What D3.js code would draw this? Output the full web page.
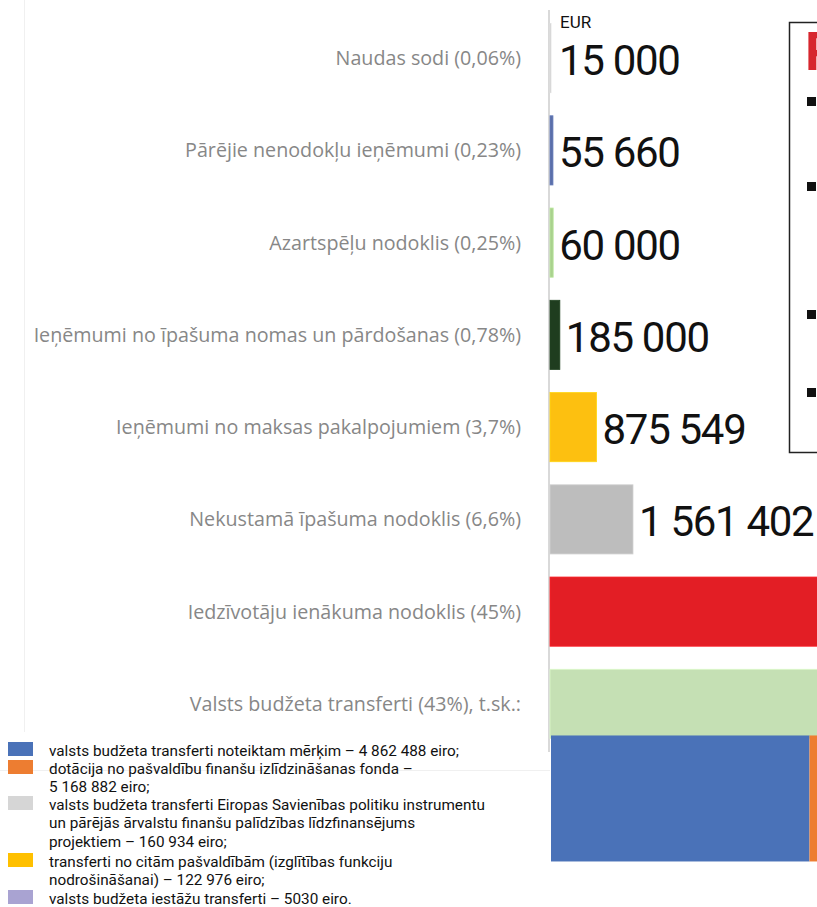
<!DOCTYPE html>
<html>
<head>
<meta charset="utf-8">
<script src="https://cdn.jsdelivr.net/npm/d3@7"></script>
<style>
  html, body { margin: 0; padding: 0; background: #fff; overflow: hidden; }
  svg { display: block; }
</style>
</head>
<body>
<svg id="chart" width="817" height="907"></svg>
<script>
// revenue categories, top to bottom
const categories = [
  "Naudas sodi (0,06%)",
  "Pārējie nenodokļu ieņēmumi (0,23%)",
  "Azartspēļu nodoklis (0,25%)",
  "Ieņēmumi no īpašuma nomas un pārdošanas (0,78%)",
  "Ieņēmumi no maksas pakalpojumiem (3,7%)",
  "Nekustamā īpašuma nodoklis (6,6%)",
  "Iedzīvotāju ienākuma nodoklis (45%)",
  "Valsts budžeta transferti (43%), t.sk.:"
];
// EUR; the last two run off the page, so they are estimated from the percentages
const values = [15000, 55660, 60000, 185000, 875549, 1561402, 10650000, 10320310];
const valueLabels = ["15 000", "55 660", "60 000", "185 000", "875 549", "1 561 402", null, null];
const barColors = ["#c9c9c9", "#5b6fa8", "#a9d18e", "#1f3d1f", "#fdc010", "#bdbdbd", "#e31e25", "#c5e0b4"];

// breakdown of the state budget transfers
const transferValues = [4862488, 5168882, 160934, 122976, 5030];
const transferColors = ["#4a72b8", "#ed7d31", "#d6d6d6", "#ffc000", "#a9a3d2"];
// legend text as it wraps in the picture
const transferLines = [
  ["valsts budžeta transferti noteiktam mērķim – 4 862 488 eiro;"],
  ["dotācija no pašvaldību finanšu izlīdzināšanas fonda –", "5 168 882 eiro;"],
  ["valsts budžeta transferti Eiropas Savienības politiku instrumentu", "un pārējās ārvalstu finanšu palīdzības līdzfinansējums", "projektiem – 160 934 eiro;"],
  ["transferti no citām pašvaldībām (izglītības funkciju", "nodrošināšanai) – 122 976 eiro;"],
  ["valsts budžeta iestāžu transferti – 5030 eiro."]
];

const svg = d3.select("#chart");

const x = d3.scaleLinear().domain([0, 10000000]).range([550, 1081.6]);
const y = d3.scaleBand().domain(categories).range([12, 750]).paddingInner(0.25).paddingOuter(0.125);

// faint chart frame
svg.append("line").attr("x1", 24.5).attr("x2", 24.5).attr("y1", 0).attr("y2", 732)
  .attr("stroke", "#f0f0f0").attr("stroke-width", 1);
svg.append("line").attr("x1", 0).attr("x2", 550).attr("y1", 770.5).attr("y2", 770.5)
  .attr("stroke", "#f0f0f0").attr("stroke-width", 1);

// category axis line
svg.append("line").attr("x1", 549).attr("x2", 549).attr("y1", 10).attr("y2", 752)
  .attr("stroke", "#d9d9d9").attr("stroke-width", 2);

const rows = categories.map((c, i) => ({ name: c, value: values[i], label: valueLabels[i], color: barColors[i] }));

svg.selectAll(".bar")
  .data(rows)
  .enter().append("rect")
  .attr("class", "bar")
  .attr("x", x(0))
  .attr("y", d => y(d.name))
  .attr("width", d => Math.max(x(d.value) - x(0), 1))
  .attr("height", y.bandwidth())
  .attr("fill", d => d.color)
  .attr("stroke", d => d3.color(d.color).brighter(0.3))
  .attr("stroke-width", 0.8);

svg.selectAll(".cat")
  .data(rows)
  .enter().append("text")
  .attr("class", "cat")
  .attr("x", 521)
  .attr("y", d => y(d.name) + y.bandwidth() / 2)
  .attr("dy", "0.36em")
  .attr("text-anchor", "end")
  .attr("font-family", "Open Sans, sans-serif")
  .attr("font-size", 19.7)
  .attr("fill", "#878787")
  .text(d => d.name);

svg.selectAll(".val")
  .data(rows.filter(d => d.label))
  .enter().append("text")
  .attr("class", "val")
  .attr("x", d => Math.max(x(d.value), 553) + 6)
  .attr("y", d => y(d.name) + y.bandwidth() / 2 + 2)
  .attr("dy", "0.36em")
  .attr("font-family", "Roboto, sans-serif")
  .attr("font-size", 42)
  .attr("letter-spacing", -1.3)
  .attr("fill", "#111")
  .text(d => d.label);

svg.append("text")
  .attr("x", 560).attr("y", 28)
  .attr("font-family", "Roboto, sans-serif")
  .attr("font-size", 17)
  .attr("fill", "#111")
  .text("EUR");

// stacked bar of the transfers under the 43% bar
let acc = 0;
const stack = transferValues.map((v, i) => { const s = { x0: acc, x1: acc + v, color: transferColors[i] }; acc += v; return s; });
const stackTop = y(categories[7]) + y.bandwidth() - 3;
svg.selectAll(".seg")
  .data(stack)
  .enter().append("rect")
  .attr("class", "seg")
  .attr("x", d => x(d.x0) + 1)
  .attr("y", stackTop)
  .attr("width", d => x(d.x1) - x(d.x0))
  .attr("height", 126)
  .attr("fill", d => d.color);

// legend, bottom left
const legend = svg.append("g").attr("class", "legend");
const legendBase = [756, 774, 810, 867, 904];
transferLines.forEach((lines, i) => {
  const g = legend.append("g");
  g.append("rect")
    .attr("x", 8).attr("y", legendBase[i] - 14)
    .attr("width", 25).attr("height", 14)
    .attr("fill", transferColors[i]);
  g.append("text")
    .attr("font-family", "Roboto, sans-serif")
    .attr("font-size", 15.3)
    .attr("fill", "#111")
    .selectAll("tspan")
    .data(lines)
    .enter().append("tspan")
    .attr("x", 49)
    .attr("y", (d, j) => legendBase[i] + j * 18.3)
    .text(d => d);
});

// side box, cut by the page edge
const box = svg.append("g").attr("class", "box");
box.append("rect")
  .attr("x", 789.5).attr("y", 22.5)
  .attr("width", 60).attr("height", 430)
  .attr("fill", "#fff").attr("stroke", "#222").attr("stroke-width", 1.5);
box.append("text")
  .attr("x", 805).attr("y", 70)
  .attr("font-family", "Roboto, sans-serif")
  .attr("font-weight", "bold")
  .attr("font-size", 54)
  .attr("fill", "#d7262e")
  .text("P");
const bulletY = [97, 182, 310, 388];
box.selectAll(".bullet")
  .data(bulletY)
  .enter().append("rect")
  .attr("class", "bullet")
  .attr("x", 807).attr("y", d => d)
  .attr("width", 9).attr("height", 9)
  .attr("fill", "#111");
</script>
</body>
</html>
